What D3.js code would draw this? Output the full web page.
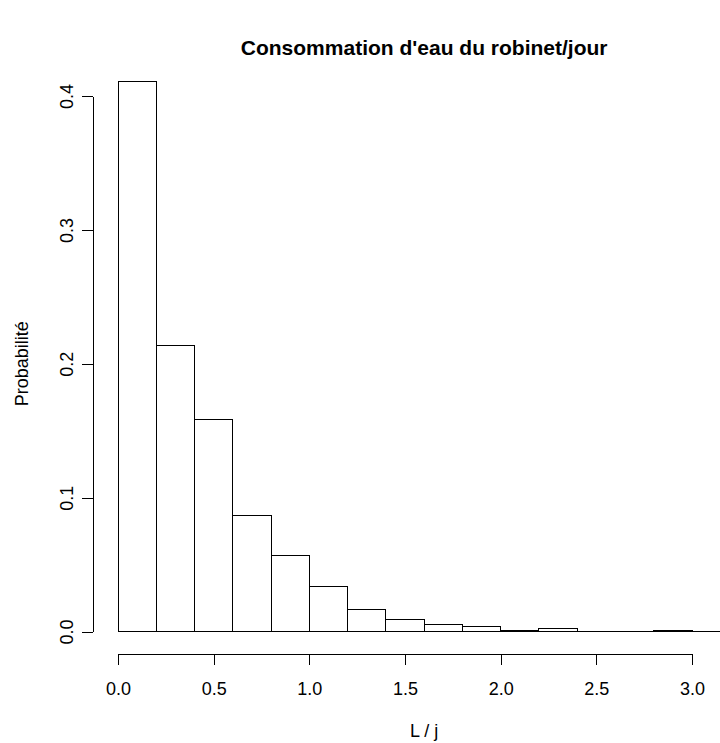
<!DOCTYPE html>
<html>
<head>
<meta charset="utf-8">
<script src="https://cdn.jsdelivr.net/npm/d3@7"></script>
<style>
  body { margin: 0; background: #fff; }
  svg { display: block; font-family: "Liberation Sans", Arial, Helvetica, sans-serif; }
</style>
</head>
<body>
<svg id="chart" width="720" height="743"></svg>
<script>
// histogram breaks (L/j) and relative frequency per bin
var breaks = [0, 0.2, 0.4, 0.6, 0.8, 1.0, 1.2, 1.4, 1.6, 1.8, 2.0, 2.2, 2.4, 2.6, 2.8, 3.0, 3.2];
var probabilite = [0.411, 0.214, 0.158, 0.0868, 0.0566, 0.0336, 0.0161, 0.0088, 0.0054, 0.0036, 0.0011, 0.0021, 0, 0, 0.0011, 0];
var xTicks = [0, 0.5, 1.0, 1.5, 2.0, 2.5, 3.0];
var yTicks = [0, 0.1, 0.2, 0.3, 0.4];

var title = "Consommation d'eau du robinet/jour";
var xLab = "L / j";
var yLab = "Probabilité";

var fs = 18;          // base font size
var tick = 10.8;      // tcl = -0.5 line

var svg = d3.select("#chart");

var x = d3.scaleLinear().domain([0, 3]).range([118, 692]);
var y = d3.scaleLinear().domain([0, 0.4]).range([631.5, 96]);

// centre of the plot region (x range of the breaks, as R does)
var midX = x(d3.mean(d3.extent(breaks)));

var bins = probabilite.map(function(p, i){
	return {x0: breaks[i], x1: breaks[i+1], p: p};
});

// bars as closed paths so empty bins still show their bottom edge
svg.append("g")
	.selectAll("path")
	.data(bins)
	.enter()
	.append("path")
	.attr("d", function(d){
		var p = d3.path();
		p.moveTo(x(d.x0), y(0));
		p.lineTo(x(d.x0), y(d.p));
		p.lineTo(x(d.x1), y(d.p));
		p.lineTo(x(d.x1), y(0));
		p.closePath();
		return p.toString();
	})
	.attr("fill", "#fff")
	.attr("stroke", "#000")
	.attr("stroke-width", 1)
	.attr("shape-rendering", "crispEdges");

// x axis, sits below the plot like R does
var xAxis = svg.append("g")
	.attr("transform", "translate(0,654)")
	.call(d3.axisBottom(x).tickValues(xTicks).tickSizeInner(tick).tickSizeOuter(0)
		.tickFormat(d3.format(".1f")));

xAxis.selectAll("text")
	.attr("y", 41)
	.attr("dy", 0);

// y axis, labels turned like R las=0
var yAxis = svg.append("g")
	.attr("transform", "translate(92.7,0)")
	.call(d3.axisLeft(y).tickValues(yTicks).tickSizeInner(tick).tickSizeOuter(0)
		.tickFormat(d3.format(".1f")));

yAxis.selectAll("text")
	.attr("x", null)
	.attr("dy", 0)
	.attr("text-anchor", "middle")
	.attr("transform", "translate(-19.7,0) rotate(-90)");

svg.selectAll("g").attr("font-family", null);
svg.selectAll(".domain, .tick line")
	.attr("stroke", "#000")
	.attr("shape-rendering", "crispEdges");
svg.selectAll(".tick text")
	.attr("fill", "#000")
	.attr("font-size", fs);

// titles
svg.append("text")
	.attr("x", midX)
	.attr("y", 55)
	.attr("text-anchor", "middle")
	.attr("font-size", 21)
	.attr("font-weight", "bold")
	.text(title);

svg.append("text")
	.attr("x", midX)
	.attr("y", 737)
	.attr("text-anchor", "middle")
	.attr("font-size", fs)
	.text(xLab);

svg.append("text")
	.attr("transform", "translate(28," + y(0.2) + ") rotate(-90)")
	.attr("text-anchor", "middle")
	.attr("font-size", fs)
	.text(yLab);
</script>
</body>
</html>
